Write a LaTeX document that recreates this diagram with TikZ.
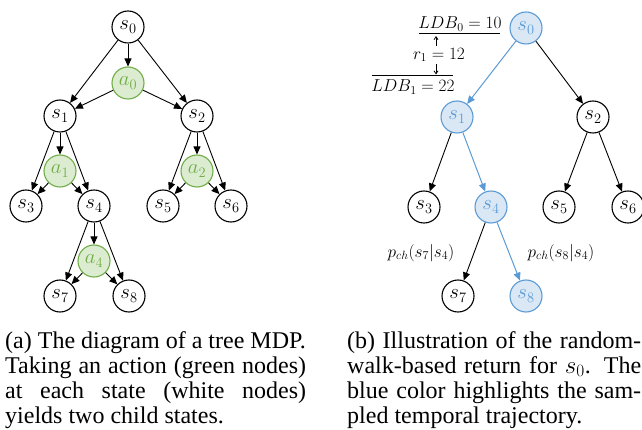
\documentclass[tikz,border=0pt]{standalone}
\usepackage{fontspec}
\setmainfont{Liberation Serif}
\usetikzlibrary{arrows.meta}
\definecolor{gfill}{RGB}{220,236,208}
\definecolor{gline}{RGB}{112,173,71}
\definecolor{bfill}{RGB}{218,232,246}
\definecolor{bline}{RGB}{91,155,213}
\begin{document}
\begin{tikzpicture}[x=1pt,y=-1pt,
 st/.style={circle,draw,line width=1.1pt,minimum size=32pt,inner sep=0pt,font=\fontsize{21.5}{23}\selectfont,fill=white},
 act/.style={st,draw=gline,fill=gfill,text=gline},
 smp/.style={st,draw=bline,fill=bfill,text=bline},
 arr/.style={-{Triangle[length=8pt,width=7pt]},line width=0.9pt},
 barr/.style={arr,draw=bline,line width=1pt},
 small/.style={font=\fontsize{17}{19}\selectfont,inner sep=0pt},
 thinarr/.style={-{Straight Barb[length=3pt,width=4pt]},line width=0.8pt},
 captxt/.style={anchor=base west,inner sep=0pt,font=\fontsize{24}{24.7}\selectfont}]
\useasboundingbox (0,0) rectangle (642,430);
% ---------- left tree ----------
\node[st] (s0) at (128,27) {$s_0$};
\node[act] (a0) at (128,83) {$a_0$};
\node[st] (s1) at (60,116) {$s_1$};
\node[st] (s2) at (197,116) {$s_2$};
\node[act] (a1) at (60,171) {$a_1$};
\node[act] (a2) at (197,171) {$a_2$};
\node[st] (s3) at (26,206) {$s_3$};
\node[st] (s4) at (94,206) {$s_4$};
\node[st] (s5) at (163,206) {$s_5$};
\node[st] (s6) at (231,206) {$s_6$};
\node[act] (a4) at (94,261) {$a_4$};
\node[st] (s7) at (60,296) {$s_7$};
\node[st] (s8) at (129,296) {$s_8$};
\foreach \p/\a/\l/\r in {s0/a0/s1/s2, s1/a1/s3/s4, s2/a2/s5/s6, s4/a4/s7/s8}{
  \draw[arr] (\p) -- (\a);
  \draw[arr] (\p) -- (\l);
  \draw[arr] (\p) -- (\r);
  \draw[arr] (\a) -- (\l);
  \draw[arr] (\a) -- (\r);
}
% ---------- right tree ----------
\node[smp] (t0) at (526,28) {$s_0$};
\node[smp] (t1) at (457,117) {$s_1$};
\node[st] (t2) at (593,117) {$s_2$};
\node[st] (t3) at (424,207) {$s_3$};
\node[smp] (t4) at (491,207) {$s_4$};
\node[st] (t5) at (559,207) {$s_5$};
\node[st] (t6) at (628,207) {$s_6$};
\node[st] (t7) at (458,296) {$s_7$};
\node[smp] (t8) at (526,296) {$s_8$};
\draw[barr] (t0) -- (t1);
\draw[arr] (t0) -- (t2);
\draw[arr] (t1) -- (t3);
\draw[barr] (t1) -- (t4);
\draw[arr] (t2) -- (t5);
\draw[arr] (t2) -- (t6);
\draw[arr] (t4) -- (t7);
\draw[barr] (t4) -- (t8);
\node[small] (pl) at (421,253) {$p_{ch}(s_7|s_4)$};
\node[small] (pr) at (561,253) {$p_{ch}(s_8|s_4)$};
% LDB annotation
\node[small] (ldb0) at (460,24) {$LDB_0=10$};
\coordinate (u0a) at (419,34);
\coordinate (u0b) at (500,34);
\draw[line width=1pt] (u0a) -- (u0b);
\node[small] (r1) at (439,55) {$r_1=12$};
\coordinate (upA) at (436,46);
\coordinate (upB) at (436,36);
\draw[thinarr] (upA) -- (upB);
\coordinate (dnA) at (436,64);
\coordinate (dnB) at (436,74.5);
\draw[thinarr] (dnA) -- (dnB);
\coordinate (u1a) at (372,76);
\coordinate (u1b) at (453,76);
\draw[line width=1pt] (u1a) -- (u1b);
\node[small] (ldb1) at (413,87) {$LDB_1=22$};
% ---------- captions ----------
\node[captxt] (ca1) at (5,348) {(a) The diagram of a tree MDP.};
\node[captxt] (ca2) at (5,373) {\makebox[301pt][s]{Taking an action (green nodes)}};
\node[captxt] (ca3) at (5,398) {\makebox[301pt][s]{at each state (white nodes)}};
\node[captxt] (ca4) at (5,423) {yields two child states.};
\node[captxt] (cb1) at (347,348) {\makebox[294pt][s]{(b) Illustration of the random-}};
\node[captxt] (cb2) at (347,373) {\makebox[294pt][s]{walk-based return for $s_0$. The}};
\node[captxt] (cb3) at (347,398) {\makebox[294pt][s]{blue color highlights the sam-}};
\node[captxt] (cb4) at (347,423) {pled temporal trajectory.};
\end{tikzpicture}
\end{document}
